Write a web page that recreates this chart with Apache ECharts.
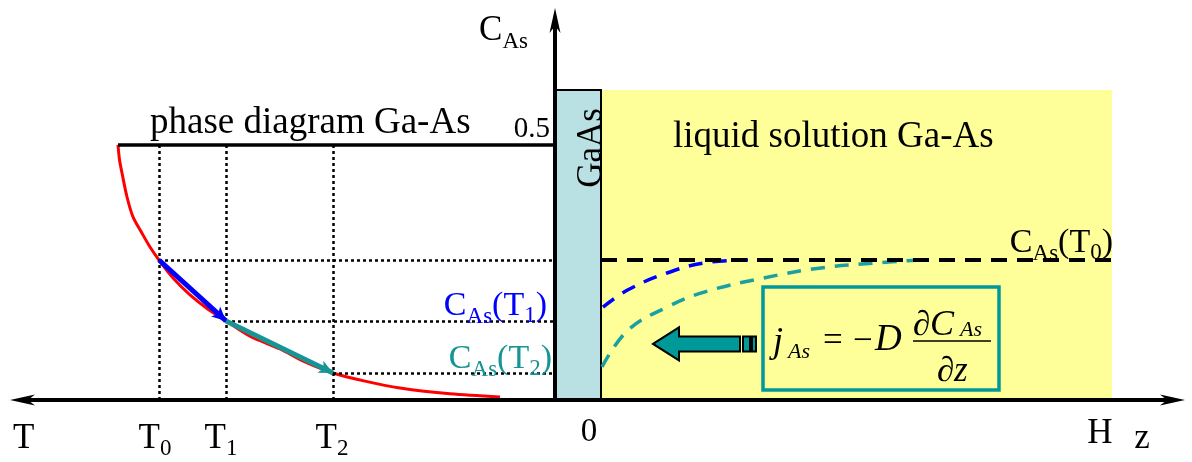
<!DOCTYPE html>
<html><head><meta charset="utf-8">
<script src="https://cdn.jsdelivr.net/npm/echarts@6/dist/echarts.min.js"></script>
<style>html,body{margin:0;padding:0;background:#fff}#c{width:1192px;height:462px}</style>
</head><body><div id="c"></div>
<script>
// ---------------- data (x: left = temperature side T, right = depth z; y = As fraction C_As) ----------------
const liquidusX = [-4.37, -4.355, -4.33, -4.28, -4.22, -4.13, -4.05, -3.96, -3.81, -3.65, -3.47, -3.29, -3.05, -2.75, -2.50, -2.22, -1.90, -1.55, -1.05, -0.55];
const liquidusC = [0.5, 0.471, 0.445, 0.398, 0.359, 0.327, 0.300, 0.2745, 0.237, 0.206, 0.178, 0.155, 0.125, 0.100, 0.0745, 0.053, 0.037, 0.0235, 0.012, 0.006];
const tempNames = ['0', '1', '2'];
const tempX = [-3.96, -3.29, -2.22];
const tempC = [0.2745, 0.155, 0.053];
const profileT1Z = [0.48, 0.73, 1.12, 1.50, 1.93];
const profileT1C = [0.182, 0.216, 0.249, 0.269, 0.2745];
const profileT2Z = [0.47, 0.73, 1.12, 1.50, 2.08, 2.66, 3.23, 3.66];
const profileT2C = [0.065, 0.137, 0.182, 0.212, 0.239, 0.259, 0.269, 0.2745];
const stoichC = 0.5;
const crystalZ = [0, 0.46];
const meltZ = [0.46, 5.57];
const layerTopC = 0.608;
const axisTX = [-5.45, 0];
const axisZX = [0, 6.30];
const axisCTop = 0.7686;
const fluxArrowZ = [1.85, 0.98];   // tail, tip
const fluxArrowC = 0.11;
const formulaBoxZ = [2.08, 4.44];
const formulaBoxC = [0.0196, 0.2216];
const xRange = [-5.55, 6.37];
const yRange = [-0.1216, 0.7843];
const tickLabels = ['T', 'T', 'T', 'T', '0', 'H', 'z'];

// ---------------- text helpers ----------------
const mctx = document.createElement('canvas').getContext('2d');
function fontStr(size, italic) { return (italic ? 'italic ' : '') + size + 'px "Liberation Serif","Times New Roman",serif'; }
function textW(t, f) { mctx.font = f; return mctx.measureText(t).width; }
function baseOff(f, size) {
  mctx.font = f; mctx.textBaseline = 'middle'; const a = mctx.measureText('H');
  mctx.textBaseline = 'alphabetic'; const b = mctx.measureText('H');
  const d = a.fontBoundingBoxDescent - b.fontBoundingBoxDescent;
  return (isFinite(d) && d > 0) ? d : 0.3375 * size;
}
function txt(str, x, baseY, size, italic, color) {
  const f = fontStr(size, italic);
  return { type: 'text', style: { text: str, x: x, y: baseY - baseOff(f, size), font: f, fill: color, align: 'left', verticalAlign: 'middle' } };
}

const BLUE = '#0000ff', TEAL = '#009999', TEAL2 = '#179595', RED = '#ff0000';

function cas(sub, color) {
  return { color: color, parts: [['C', 34], ['As', 23, false, 8], ['(T', 34], [sub, 23, false, 7], [')', 34]] };
}
const labelSpecs = [
  { at: [0, axisCTop], dx: -27, dy: 32, align: 'right', color: '#000', parts: [['C', 35], ['As', 23, false, 8]] },
  { at: [0, stoichC], dx: -5, dy: -8, align: 'right', color: '#000', parts: [['0.5', 29]] },
  { at: [liquidusX[0], stoichC], dx: 32, dy: -12, align: 'left', color: '#000', parts: [['phase diagram Ga-As', 37]] },
  { at: [meltZ[0], layerTopC], dx: 72, dy: 57, align: 'left', color: '#000', parts: [['liquid solution Ga-As', 37]] },
  Object.assign({ at: [0, tempC[1]], dx: -8, dy: -6, align: 'right' }, cas(tempNames[1], BLUE)),
  Object.assign({ at: [0, tempC[2]], dx: -3, dy: -5, align: 'right' }, cas(tempNames[2], TEAL2)),
  Object.assign({ at: [meltZ[1], tempC[0]], dx: 1, dy: -8, align: 'right' }, cas(tempNames[0], '#000')),
  { at: [axisTX[0], 0], dx: 3, dy: 48, align: 'left', color: '#000', parts: [[tickLabels[0], 35]] },
  { at: [tempX[0], 0], dx: -4, dy: 48, align: 'center', color: '#000', parts: [[tickLabels[1], 35], [tempNames[0], 23, false, 7]] },
  { at: [tempX[1], 0], dx: -5, dy: 48, align: 'center', color: '#000', parts: [[tickLabels[2], 35], [tempNames[1], 23, false, 7]] },
  { at: [tempX[2], 0], dx: -1, dy: 48, align: 'center', color: '#000', parts: [[tickLabels[3], 35], [tempNames[2], 23, false, 7]] },
  { at: [0, 0], dx: 34, dy: 41, align: 'center', color: '#000', parts: [[tickLabels[4], 33]] },
  { at: [meltZ[1], 0], dx: -12, dy: 43, align: 'center', color: '#000', parts: [[tickLabels[5], 35]] },
  { at: [axisZX[1], 0], dx: -43, dy: 48, align: 'center', color: '#000', parts: [[tickLabels[6], 35]] },
  { at: [crystalZ[1], layerTopC], rotate: true, dy: 58, color: '#000', parts: [['GaAs', 35]] }
];

function renderLabel(params, api) {
  const spec = labelSpecs[params.dataIndex];
  const p = api.coord([api.value(0), api.value(1)]);
  if (spec.rotate) {
    const f = fontStr(spec.parts[0][1], false);
    return { type: 'text', x: p[0] - baseOff(f, spec.parts[0][1]), y: p[1] + spec.dy, rotation: Math.PI / 2,
      style: { text: spec.parts[0][0], x: 0, y: 0, font: f, fill: spec.color, align: 'center', verticalAlign: 'middle' } };
  }
  const widths = spec.parts.map(q => textW(q[0], fontStr(q[1], q[2])));
  const total = widths.reduce((a, b) => a + b, 0);
  let x = p[0] + spec.dx;
  if (spec.align === 'right') x -= total; else if (spec.align === 'center') x -= total / 2;
  const base = p[1] + spec.dy;
  const children = [];
  spec.parts.forEach((q, i) => { children.push(txt(q[0], x, base + (q[3] || 0), q[1], q[2], spec.color)); x += widths[i]; });
  return { type: 'group', children: children };
}

const regionStyles = [
  { fill: '#ffff99', stroke: null, lineWidth: 0 },
  { fill: '#b9e1e4', stroke: '#000', lineWidth: 2 }
];
function renderRegion(params, api) {
  const a = api.coord([api.value(0), api.value(1)]);
  const b = api.coord([api.value(2), api.value(3)]);
  return { type: 'rect', shape: { x: Math.min(a[0], b[0]), y: Math.min(a[1], b[1]), width: Math.abs(b[0] - a[0]), height: Math.abs(b[1] - a[1]) },
    style: regionStyles[params.dataIndex] };
}

function arrowHead(tip, dir, len, half, notch) {
  const px = -dir[1], py = dir[0];
  return [[tip[0], tip[1]],
    [tip[0] - dir[0] * len + px * half, tip[1] - dir[1] * len + py * half],
    [tip[0] - dir[0] * notch, tip[1] - dir[1] * notch],
    [tip[0] - dir[0] * len - px * half, tip[1] - dir[1] * len - py * half]];
}
function renderAxis(params, api) {
  const a = api.coord([api.value(0), api.value(1)]);
  const b = api.coord([api.value(2), api.value(3)]);
  const startArrow = api.value(4), endArrow = api.value(5);
  const L = Math.hypot(b[0] - a[0], b[1] - a[1]);
  const d = [(b[0] - a[0]) / L, (b[1] - a[1]) / L];
  const notch = 18;
  const s = startArrow ? [a[0] + d[0] * notch, a[1] + d[1] * notch] : a;
  const e = endArrow ? [b[0] - d[0] * notch, b[1] - d[1] * notch] : b;
  const children = [{ type: 'line', shape: { x1: s[0], y1: s[1], x2: e[0], y2: e[1] }, style: { stroke: '#000', lineWidth: 4 } }];
  if (endArrow) children.push({ type: 'polygon', shape: { points: arrowHead(b, d, 25, 5.5, notch) }, style: { fill: '#000' } });
  if (startArrow) children.push({ type: 'polygon', shape: { points: arrowHead(a, [-d[0], -d[1]], 25, 5.5, notch) }, style: { fill: '#000' } });
  return { type: 'group', children: children };
}

function renderFlux(params, api) {
  const tail = api.coord([api.value(0), api.value(1)]);
  const tip = api.coord([api.value(2), api.value(3)]);
  const y = tip[1], tx = tip[0], hx = tx + 26, t = tail[0];
  const st = { fill: '#009999', stroke: '#000', lineWidth: 2 };
  return { type: 'group', children: [
    { type: 'polygon', shape: { points: [[tx, y], [hx, y - 16.5], [hx, y - 7.5], [t, y - 7.5], [t, y + 7.5], [hx, y + 7.5], [hx, y + 16.5]] }, style: st },
    { type: 'rect', shape: { x: t + 3, y: y - 7.5, width: 7, height: 15 }, style: st },
    { type: 'rect', shape: { x: t + 12, y: y - 7.5, width: 4, height: 15 }, style: st }
  ] };
}

function renderFormula(params, api) {
  const a = api.coord([api.value(0), api.value(1)]);
  const b = api.coord([api.value(2), api.value(3)]);
  const x0 = a[0], y0 = a[1];
  const c = '#000';
  return { type: 'group', children: [
    { type: 'rect', shape: { x: x0, y: y0, width: b[0] - x0, height: b[1] - y0 }, style: { fill: null, stroke: '#009999', lineWidth: 3.5 } },
    txt('j', x0 + 10, y0 + 65, 36, true, c),
    txt('As', x0 + 25, y0 + 71, 22, true, c),
    txt('=', x0 + 60, y0 + 64, 35, false, c),
    txt('\u2212', x0 + 90, y0 + 64, 35, false, c),
    txt('D', x0 + 112, y0 + 63, 37, true, c),
    txt('\u2202', x0 + 150, y0 + 48, 35, false, c),
    txt('C', x0 + 167, y0 + 48, 36, true, c),
    txt('As', x0 + 197, y0 + 49, 22, true, c),
    { type: 'line', shape: { x1: x0 + 150, y1: y0 + 54, x2: x0 + 228, y2: y0 + 54 }, style: { stroke: c, lineWidth: 1.5 } },
    txt('\u2202', x0 + 174, y0 + 94, 35, false, c),
    txt('z', x0 + 191, y0 + 94, 35, true, c)
  ] };
}

const dotted = { color: '#000', width: 2.5, type: [3, 3], cap: 'butt' };
const guideLines = [];
tempX.forEach((x, i) => {
  guideLines.push([{ coord: [x, 0], lineStyle: dotted }, { coord: [x, stoichC] }]);
  guideLines.push([{ coord: [x, tempC[i]], lineStyle: dotted }, { coord: [0, tempC[i]] }]);
});
guideLines.push([{ coord: [liquidusX[0], stoichC], lineStyle: { color: '#000', width: 3.5, type: 'solid' } }, { coord: [0, stoichC] }]);
guideLines.push([{ coord: [meltZ[0], tempC[0]], lineStyle: { color: '#000', width: 4, type: [16, 10], cap: 'butt' } }, { coord: [meltZ[1], tempC[0]] }]);

const slopeArrows = [
  [{ coord: [tempX[0], tempC[0]], lineStyle: { color: BLUE, width: 5, type: 'solid' } }, { coord: [tempX[1], tempC[1]], symbol: 'arrow', symbolSize: [10, 14] }],
  [{ coord: [tempX[1], tempC[1]], lineStyle: { color: TEAL2, width: 5, type: 'solid' } }, { coord: [tempX[2], tempC[2]], symbol: 'arrow', symbolSize: [10, 14] }]
];

const chart = echarts.init(document.getElementById('c'), null, { renderer: 'canvas' });
chart.setOption({
  animation: false,
  backgroundColor: '#fff',
  grid: { left: 0, right: 0, top: 0, bottom: 0 },
  xAxis: { type: 'value', min: xRange[0], max: xRange[1], show: false },
  yAxis: { type: 'value', min: yRange[0], max: yRange[1], show: false },
  series: [
    { type: 'custom', name: 'regions', renderItem: renderRegion, silent: true, z: 1,
      data: [[meltZ[0], 0, meltZ[1], layerTopC], [crystalZ[0], 0, crystalZ[1], layerTopC]] },
    { type: 'line', name: 'C(T1) profile', data: profileT1Z.map((z, i) => [z, profileT1C[i]]), smooth: 0.4, showSymbol: false, symbol: 'none', z: 3,
      lineStyle: { color: BLUE, width: 3.5, type: [14, 10], cap: 'butt' } },
    { type: 'line', name: 'C(T2) profile', data: profileT2Z.map((z, i) => [z, profileT2C[i]]), smooth: 0.4, showSymbol: false, symbol: 'none', z: 3,
      lineStyle: { color: '#1aa0a0', width: 3.5, type: [14, 10], cap: 'butt' } },
    { type: 'line', name: 'guides', data: [], z: 4,
      markLine: { silent: true, symbol: ['none', 'none'], label: { show: false }, animation: false, data: guideLines } },
    { type: 'line', name: 'liquidus', data: liquidusX.map((x, i) => [x, liquidusC[i]]), smooth: 0.3, showSymbol: false, symbol: 'none', z: 4,
      lineStyle: { color: RED, width: 3 } },
    { type: 'line', name: 'cooling steps', data: [], z: 5,
      markLine: { silent: true, symbol: ['none', 'none'], label: { show: false }, animation: false, data: slopeArrows } },
    { type: 'custom', name: 'flux', renderItem: renderFlux, silent: true, z: 5,
      data: [[fluxArrowZ[0], fluxArrowC, fluxArrowZ[1], fluxArrowC]] },
    { type: 'custom', name: 'formula', renderItem: renderFormula, silent: true, z: 5,
      data: [[formulaBoxZ[0], formulaBoxC[1], formulaBoxZ[1], formulaBoxC[0]]] },
    { type: 'custom', name: 'axes', renderItem: renderAxis, silent: true, z: 6,
      data: [[axisTX[0], 0, axisZX[1], 0, 1, 1], [0, 0, 0, axisCTop, 0, 1]] },
    { type: 'custom', name: 'labels', renderItem: renderLabel, silent: true, z: 7,
      data: labelSpecs.map(l => [l.at[0], l.at[1]]) }
  ]
});
</script></body></html>
